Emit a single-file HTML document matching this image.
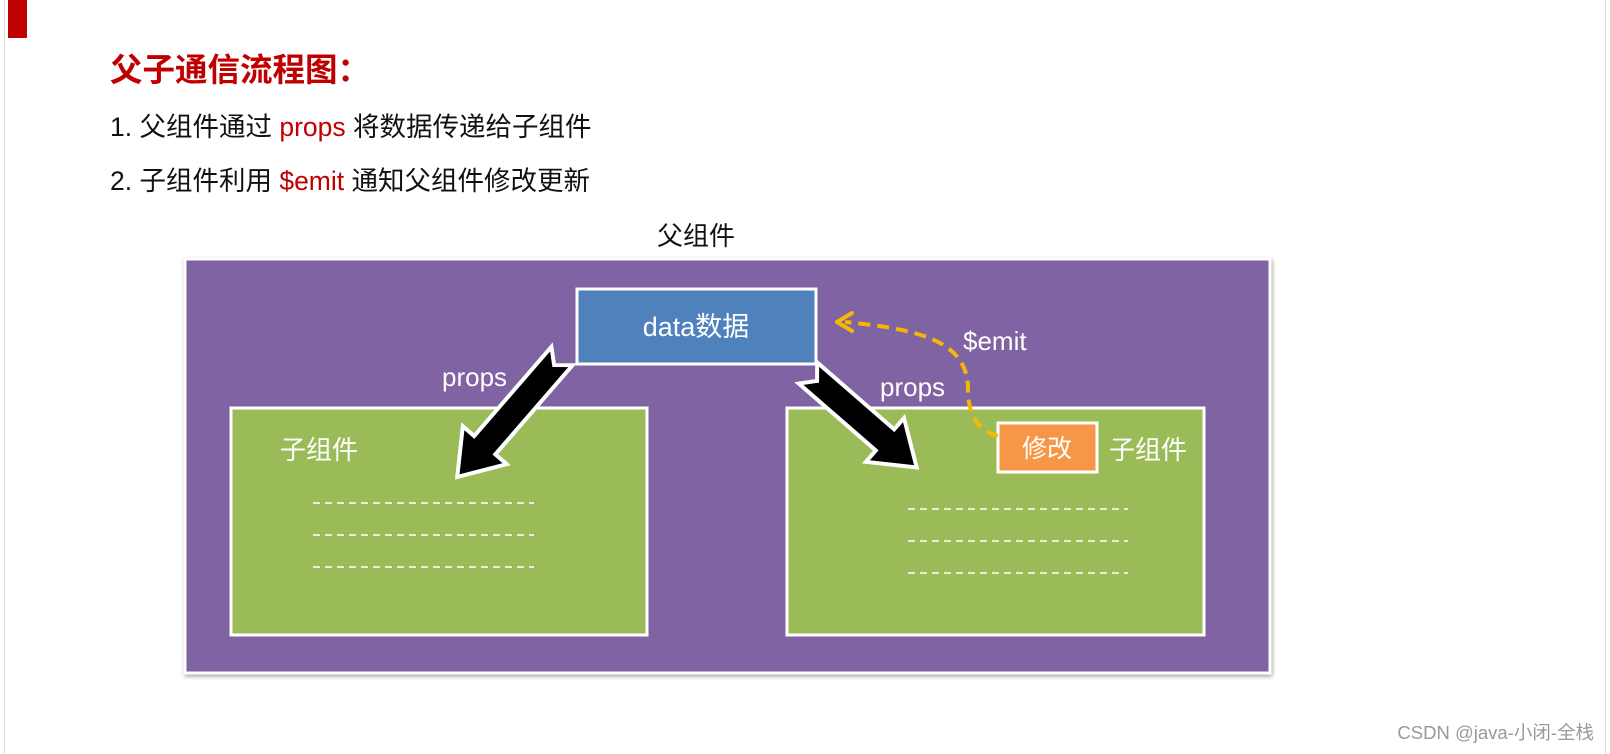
<!DOCTYPE html>
<html><head><meta charset="utf-8"><style>
html,body{margin:0;padding:0;background:#fff;}
body{width:1610px;height:754px;position:relative;overflow:hidden;font-family:"Liberation Sans","Noto Sans CJK SC",sans-serif;}
.t{position:absolute;white-space:nowrap;line-height:1.2;}
</style></head><body>
<div style="position:absolute;left:4px;top:0;width:1px;height:754px;background:#ddd"></div>
<div style="position:absolute;left:1605px;top:0;width:1px;height:754px;background:#ddd"></div>
<div style="position:absolute;left:8px;top:0;width:19px;height:38px;background:#c00000"></div>
<div class="t" style="left:110px;top:51px;font-size:32.5px;font-weight:bold;color:#c00000;">父子通信流程图：</div>
<div class="t" style="left:110px;top:112px;font-size:26.5px;color:#111;">1. 父组件通过 <span style="color:#c00000">props</span> 将数据传递给子组件</div>
<div class="t" style="left:110px;top:166px;font-size:26.5px;color:#111;">2. 子组件利用 <span style="color:#c00000">$emit</span> 通知父组件修改更新</div>
<div class="t" style="left:657px;top:221px;font-size:26px;color:#111;">父组件</div>
<svg width="1610" height="754" style="position:absolute;left:0;top:0" font-family="Liberation Sans, Noto Sans CJK SC, sans-serif">
<defs><filter id="sh" x="-5%" y="-5%" width="110%" height="110%"><feDropShadow dx="1" dy="2" stdDeviation="2" flood-opacity="0.35"/></filter></defs>
<rect x="185" y="259" width="1085" height="414" fill="#8064a2" stroke="#fff" stroke-width="3" filter="url(#sh)"/>
<rect x="577" y="289" width="239" height="75" fill="#4f81bd" stroke="#fff" stroke-width="3"/>
<text x="696" y="336" font-size="27" fill="#fff" text-anchor="middle">data数据</text>
<rect x="231" y="408" width="416" height="227" fill="#9bbb59" stroke="#fff" stroke-width="3"/>
<rect x="787" y="408" width="417" height="227" fill="#9bbb59" stroke="#fff" stroke-width="3"/>
<text x="280" y="459" font-size="26" fill="#fff">子组件</text>
<text x="1109" y="459" font-size="26" fill="#fff">子组件</text>
<g stroke="#fff" stroke-width="1.5" stroke-dasharray="7,5">
<line x1="313" y1="503" x2="534" y2="503"/><line x1="313" y1="535" x2="534" y2="535"/><line x1="313" y1="567" x2="534" y2="567"/>
<line x1="908" y1="509" x2="1128" y2="509"/><line x1="908" y1="541" x2="1128" y2="541"/><line x1="908" y1="573" x2="1128" y2="573"/>
</g>
<rect x="998" y="423" width="99" height="49" fill="#f79646" stroke="#fff" stroke-width="3"/>
<text x="1047" y="457" font-size="25" fill="#fff" text-anchor="middle">修改</text>
<text x="442" y="386" font-size="26" fill="#fff">props</text>
<text x="880" y="396" font-size="26" fill="#fff">props</text>
<text x="963" y="350" font-size="26" fill="#fff">$emit</text>
<g transform="translate(562,356) rotate(130.9)">
<polygon points="0,-14 118,-14 118,-29 160,0 118,29 118,14 0,14 12,0" fill="#000" stroke="#fff" stroke-width="4" stroke-linejoin="miter"/>
</g>
<g transform="translate(808,373) rotate(41)">
<polygon points="0,-14 102,-14 102,-29 144,0 102,29 102,14 0,14 12,0" fill="#000" stroke="#fff" stroke-width="4" stroke-linejoin="miter"/>
</g>
<path d="M998,436 C975,430 968,410 968,390 C968,345 930,330 845,322" fill="none" stroke="#f5b800" stroke-width="4" stroke-dasharray="12,7"/>
<polyline points="852,313 837,322 852,331" fill="none" stroke="#f5b800" stroke-width="4" stroke-linecap="round" stroke-linejoin="round"/>
</svg>
<div class="t" style="right:16px;top:722px;font-size:18.5px;color:#999;">CSDN @java-小闭-全栈</div>
</body></html>
